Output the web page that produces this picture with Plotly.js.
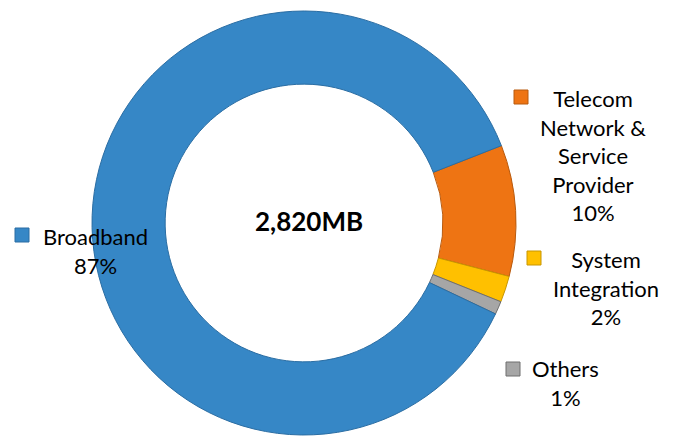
<!DOCTYPE html>
<html>
<head>
<meta charset="utf-8">
<script src="https://cdn.plot.ly/plotly-3.0.1.min.js"></script>
<style>html,body{margin:0;padding:0;background:#fff;}#chart{width:678px;height:439px;}</style>
</head>
<body>
<div id="chart"></div>
<script>
// Data
const categories = ["Telecom Network & Service Provider", "System Integration", "Others", "Broadband"];
const labelLines = [["Telecom", "Network &", "Service", "Provider"], ["System", "Integration"], ["Others"], ["Broadband"]];
const values = [10, 2, 1, 87];
const centerText = "2,820MB";

// Styles
const colors = ["#EE7413", "#FFC000", "#A6A6A6", "#3687C6"];
const lineColors = ["#B85A0E", "#C89600", "#6E6E6E", "#2A6DA3"];
const labelPos = [
  {x: 593, y: 155, mx: 521, my: 97},
  {x: 606, y: 288, mx: 534, my: 258},
  {x: 565, y: 383, mx: 513, my: 369},
  {x: 95,  y: 251, mx: 22,  my: 235}
];
const W = 678, H = 439;
const total = values.reduce((a, b) => a + b, 0);

const trace = {
  type: "pie",
  labels: categories,
  values: values,
  hole: 0.655,
  sort: false,
  direction: "clockwise",
  rotation: 68.6,
  textinfo: "none",
  hoverinfo: "label+percent",
  marker: {colors: colors, line: {color: lineColors, width: 1}},
  domain: {x: [(304 - 212) / W, (304 + 212) / W], y: [(439 - 223 - 212) / H, (439 - 223 + 212) / H]},
  showlegend: false
};

const annotations = [];
const shapes = [];
categories.forEach((c, i) => {
  const p = labelPos[i];
  const pct = Math.round(values[i] / total * 100) + "%";
  annotations.push({
    xref: "paper", yref: "paper",
    x: p.x / W, y: 1 - p.y / H,
    xanchor: "center", yanchor: "middle",
    align: "center",
    showarrow: false,
    text: labelLines[i].concat([pct]).join("<br>"),
    font: {family: "Lato, 'Open Sans', sans-serif", size: 22, color: "#000"}
  });
  shapes.push({
    type: "rect", xref: "paper", yref: "paper",
    x0: (p.mx - 7) / W, x1: (p.mx + 7) / W,
    y0: 1 - (p.my + 7) / H, y1: 1 - (p.my - 7) / H,
    fillcolor: colors[i], line: {color: lineColors[i], width: 1}
  });
});
annotations.push({
  xref: "paper", yref: "paper",
  x: 309 / W, y: 1 - 221 / H,
  xanchor: "center", yanchor: "middle",
  showarrow: false,
  text: "<b>" + centerText + "</b>",
  font: {family: "Lato, 'Open Sans', sans-serif", size: 26, color: "#000"}
});

const layout = {
  width: W, height: H,
  margin: {l: 0, r: 0, t: 0, b: 0},
  paper_bgcolor: "#fff",
  plot_bgcolor: "#fff",
  annotations: annotations,
  shapes: shapes,
  showlegend: false
};

Plotly.newPlot("chart", [trace], layout, {displayModeBar: false, staticPlot: true});
</script>
</body>
</html>
